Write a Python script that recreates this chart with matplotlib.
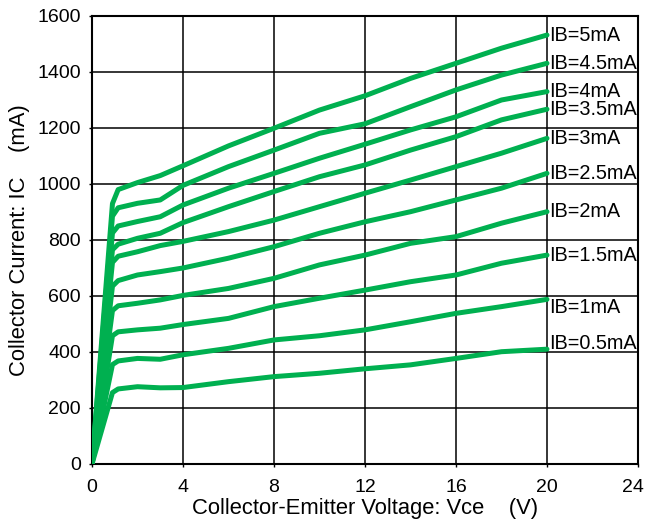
import numpy as np
import matplotlib
matplotlib.use("Agg")
import matplotlib.pyplot as plt
import matplotlib.transforms as mtransforms

plt.rcParams['font.family'] = ['Liberation Sans', 'DejaVu Sans']

# Vce sample points (V)
vce = [0, 0.9, 1.15, 2, 3, 4, 6, 8, 10, 12, 14, 16, 18, 20]

# Collector current (mA) for each base current
ic_5_0 = [0, 930, 980, 1005, 1030, 1065, 1136, 1199, 1264, 1315, 1377, 1431, 1485, 1532]
ic_4_5 = [0, 885, 915, 931, 943, 995, 1062, 1121, 1181, 1215, 1276, 1336, 1389, 1431]
ic_4_0 = [0, 825, 850, 866, 883, 925, 985, 1038, 1092, 1142, 1193, 1240, 1300, 1330]
ic_3_5 = [0, 765, 785, 806, 824, 862, 919, 973, 1026, 1068, 1121, 1169, 1229, 1267]
ic_3_0 = [0, 720, 742, 758, 780, 795, 830, 871, 919, 967, 1014, 1062, 1110, 1163]
ic_2_5 = [0, 635, 655, 675, 687, 700, 735, 776, 824, 865, 901, 943, 985, 1038]
ic_2_0 = [0, 548, 565, 574, 586, 602, 627, 663, 711, 746, 788, 812, 860, 901]
ic_1_5 = [0, 458, 472, 479, 485, 498, 520, 562, 592, 621, 651, 675, 717, 746]
ic_1_0 = [0, 355, 368, 377, 374, 390, 413, 443, 458, 479, 508, 538, 562, 588]
ic_0_5 = [0, 255, 268, 276, 272, 273, 294, 312, 324, 340, 354, 377, 401, 410]

curves = [ic_5_0, ic_4_5, ic_4_0, ic_3_5, ic_3_0, ic_2_5, ic_2_0, ic_1_5, ic_1_0, ic_0_5]
labels = ["IB=5mA", "IB=4.5mA", "IB=4mA", "IB=3.5mA", "IB=3mA",
          "IB=2.5mA", "IB=2mA", "IB=1.5mA", "IB=1mA", "IB=0.5mA"]
label_shift = [0, 0, 0, 0, 0, 0, 0, 0, -28, 20]

green = '#00b050'

fig = plt.figure(figsize=(6.46, 5.26), dpi=100)
ax = fig.add_axes([0.1424, 0.1179, 0.8452, 0.8517])

for ic, lab, dy in zip(curves, labels, label_shift):
    ax.plot(vce, ic, color=green, lw=3.6, solid_joinstyle='round',
            solid_capstyle='round', zorder=3)
    ax.text(vce[-1] + 0.1, ic[-1] + dy, lab, fontsize=14.3,
            va='center', ha='left', zorder=4)

ax.set_xlim(0, 24)
ax.set_ylim(0, 1600)
ax.set_xticks(np.arange(0, 25, 4))
ax.set_yticks(np.arange(0, 1601, 200))
ax.grid(True, color='black', lw=1.1)
ax.set_axisbelow(True)
ax.tick_params(length=2, width=1, labelsize=14)
ax.tick_params(axis='x', pad=9)
ax.tick_params(axis='y', pad=6)
for s in ax.spines.values():
    s.set_color('black')
    s.set_linewidth(1.5)

# last x tick label sits a bit left in the original
shift = mtransforms.ScaledTranslation(-5 / 100, 0, fig.dpi_scale_trans)
lbl = ax.get_xticklabels()[-1]
lbl.set_transform(lbl.get_transform() + shift)

ax.set_xlabel("Collector-Emitter Voltage: Vce    (V)", fontsize=15.8, labelpad=1)
ax.set_ylabel("Collector Current: IC    (mA)", fontsize=15.8, labelpad=5)

fig.savefig("out.png", dpi=100)
